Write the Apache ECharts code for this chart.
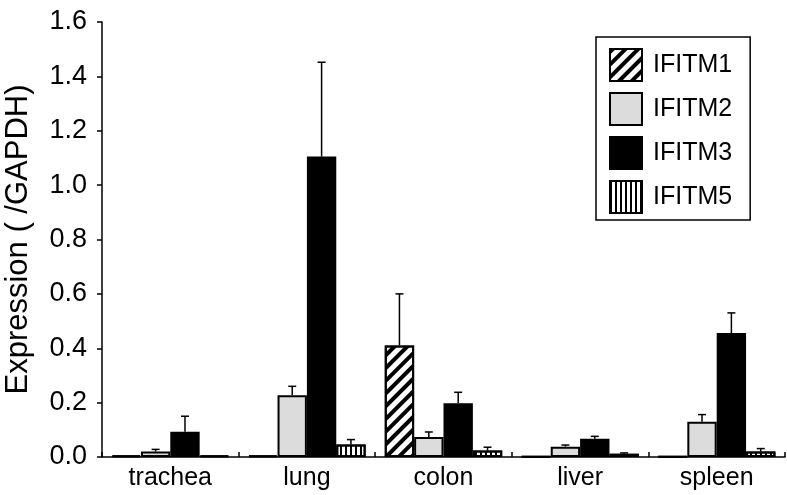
<!DOCTYPE html>
<html>
<head>
<meta charset="utf-8">
<script src="https://cdn.jsdelivr.net/npm/echarts@6/dist/echarts.min.js"></script>
<style>
  html, body { margin: 0; padding: 0; background: #fff; }
  #chart { width: 787px; height: 495px; }
</style>
</head>
<body>
<div id="chart"></div>
<script>
// categories and values
var categories = ['trachea', 'lung', 'colon', 'liver', 'spleen']
var ifitm1 = [0.006, 0.006, 0.41, 0.002, 0.002]
var ifitm1Err = [0, 0, 0.19, 0, 0]
var ifitm2 = [0.02, 0.227, 0.074, 0.038, 0.13]
var ifitm2Err = [0.008, 0.033, 0.018, 0.006, 0.026]
var ifitm3 = [0.093, 1.105, 0.198, 0.067, 0.456]
var ifitm3Err = [0.057, 0.347, 0.04, 0.009, 0.074]
var ifitm5 = [0.005, 0.046, 0.024, 0.012, 0.02]
var ifitm5Err = [0, 0.018, 0.012, 0.003, 0.011]
var yTicks = [0, 0.2, 0.4, 0.6, 0.8, 1.0, 1.2, 1.4, 1.6]

var FONT = '"Liberation Sans", Arial, sans-serif'
var CAT_GAP = 0.14

// error bar data: [category index, value, error, series index]
function errData(vals, errs, idx) {
  var out = []
  vals.forEach(function(v, i) {
    if (errs[i] > 0) out.push([i, v, errs[i], idx])
  })
  return out
}
var errAll = []
  .concat(errData(ifitm1, ifitm1Err, 0))
  .concat(errData(ifitm2, ifitm2Err, 1))
  .concat(errData(ifitm3, ifitm3Err, 2))
  .concat(errData(ifitm5, ifitm5Err, 3))

function renderError(params, api) {
  var cat = api.value(0)
  var val = api.value(1)
  var err = api.value(2)
  var idx = api.value(3)
  var catW = api.size([1, 0])[0]
  var barW = catW * (1 - CAT_GAP) / 4
  var dx = -catW * (1 - CAT_GAP) / 2 + barW * (idx + 0.5)
  var p0 = api.coord([cat, val])
  var p1 = api.coord([cat, val + err])
  var x = p0[0] + dx
  var st = { stroke: '#000', lineWidth: 1.5 }
  return {
    type: 'group',
    children: [
      { type: 'line', shape: { x1: x, y1: p0[1], x2: x, y2: p1[1] }, style: st },
      { type: 'line', shape: { x1: x - 4, y1: p1[1], x2: x + 4, y2: p1[1] }, style: st }
    ]
  }
}

var chart = echarts.init(document.getElementById('chart'))
var option = {
  animation: false,
  backgroundColor: '#fff',
  textStyle: { fontFamily: FONT, color: '#000' },
  grid: { left: 102, right: 2, top: 22, bottom: 38, outerBoundsMode: 'none' },
  legend: {
    data: ['IFITM1', 'IFITM2', 'IFITM3', 'IFITM5'],
    orient: 'vertical',
    left: 596,
    top: 37,
    icon: 'rect',
    itemWidth: 32,
    itemHeight: 32,
    itemGap: 10,
    padding: [11, 18, 6, 13],
    borderColor: '#000',
    borderWidth: 1.5,
    textStyle: { fontSize: 25, fontFamily: FONT, color: '#000', padding: [0, 0, 0, 6] }
  },
  xAxis: {
    type: 'category',
    data: categories,
    axisLine: { lineStyle: { color: '#000', width: 1.5 } },
    axisTick: { show: true, inside: true, length: 5, interval: 0, lineStyle: { color: '#000', width: 1.5 } },
    axisLabel: { fontSize: 25, color: '#000', margin: 9, fontFamily: FONT }
  },
  yAxis: {
    type: 'value',
    min: 0,
    max: 1.6,
    interval: 0.2,
    name: 'Expression ( /GAPDH)',
    nameLocation: 'middle',
    nameGap: 68,
    nameTextStyle: { fontSize: 31, color: '#000', fontFamily: FONT },
    splitLine: { show: false },
    axisLine: { show: true, lineStyle: { color: '#000', width: 1.5 } },
    axisTick: { show: true, length: 5, lineStyle: { color: '#000', width: 1.5 } },
    axisLabel: {
      fontSize: 27,
      color: '#000',
      margin: 15,
      fontFamily: FONT,
      formatter: function(v) { return yTicks.indexOf(Math.round(v * 10) / 10) >= 0 ? v.toFixed(1) : '' }
    }
  },
  series: [
    {
      name: 'IFITM1',
      type: 'bar',
      barGap: 0,
      barCategoryGap: '14%',
      itemStyle: {
        color: '#fff',
        borderColor: '#000',
        borderWidth: 2,
        decal: {
          symbol: 'rect',
          symbolSize: 1,
          color: '#000',
          dashArrayX: [1, 0],
          dashArrayY: [4, 5],
          rotation: -Math.PI / 4
        }
      },
      data: ifitm1
    },
    {
      name: 'IFITM2',
      type: 'bar',
      barGap: 0,
      barCategoryGap: '14%',
      itemStyle: { color: '#dcdcdc', borderColor: '#000', borderWidth: 2 },
      data: ifitm2
    },
    {
      name: 'IFITM3',
      type: 'bar',
      barGap: 0,
      barCategoryGap: '14%',
      itemStyle: { color: '#000', borderColor: '#000', borderWidth: 2 },
      data: ifitm3
    },
    {
      name: 'IFITM5',
      type: 'bar',
      barGap: 0,
      barCategoryGap: '14%',
      itemStyle: {
        color: '#fff',
        borderColor: '#000',
        borderWidth: 2,
        decal: {
          symbol: 'rect',
          symbolSize: 1,
          color: '#000',
          dashArrayX: [2, 3],
          dashArrayY: [1, 0],
          rotation: 0
        }
      },
      data: ifitm5
    },
    {
      name: 'err',
      type: 'custom',
      renderItem: renderError,
      encode: { x: 0, y: 1 },
      z: 3,
      data: errAll
    }
  ]
}
chart.setOption(option)
</script>
</body>
</html>
